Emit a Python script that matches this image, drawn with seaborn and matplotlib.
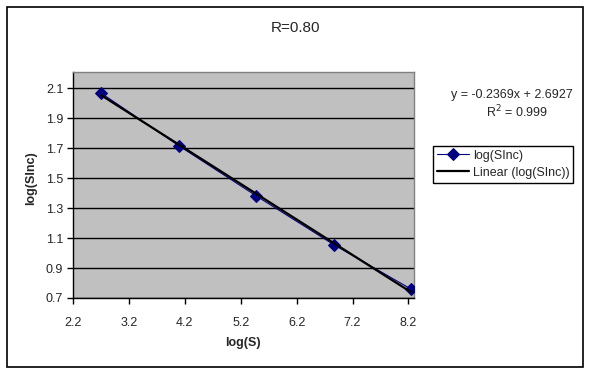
import numpy as np
import pandas as pd
import matplotlib
matplotlib.use("Agg")
import matplotlib.pyplot as plt
import seaborn as sns
from matplotlib.patches import Rectangle

log_s = [2.708, 4.094, 5.481, 6.867, 8.253]
log_sinc = [2.065, 1.715, 1.380, 1.055, 0.758]
slope = -0.2369
intercept = 2.6927
r_squared = 0.999
x_ticks = [2.2, 3.2, 4.2, 5.2, 6.2, 7.2, 8.2]
y_ticks = [0.7, 0.9, 1.1, 1.3, 1.5, 1.7, 1.9, 2.1]

sns.set_style("white")
plt.rcParams['font.family'] = ['Liberation Sans', 'DejaVu Sans']

fig = plt.figure(figsize=(5.91, 3.75), dpi=100)
ax = fig.add_axes([73/591, 1-298/375, (414-73)/591, (298-72)/375])

df = pd.DataFrame({"log(S)": log_s, "log(SInc)": log_sinc})
trend_x = np.array([log_s[0], log_s[-1]])
trend = pd.DataFrame({"x": trend_x, "y": slope * trend_x + intercept})

ax.set_facecolor("#C0C0C0")
for yt in y_ticks:
    ax.axhline(yt, color="black", lw=1, zorder=1)

sns.lineplot(data=df, x="log(S)", y="log(SInc)", ax=ax, color="#000080",
             marker="D", markersize=6, markeredgecolor="#000080", lw=0.8,
             label="log(SInc)", zorder=3)
sns.lineplot(data=trend, x="x", y="y", ax=ax, color="black", lw=1.6,
             label="Linear (log(SInc))", zorder=4)

ax.set_xlim(2.2, 8.3)
ax.set_ylim(0.7, 2.207)
ax.set_xticks(x_ticks)
ax.set_yticks(y_ticks)
ax.set_xticklabels([f"{v:.1f}" for v in x_ticks], fontsize=9)
ax.set_yticklabels([f"{v:.1f}" for v in y_ticks], fontsize=9)
ax.tick_params(axis="both", which="major", bottom=True, left=True,
               direction="out", length=4, width=1, color="black", pad=3)
ax.tick_params(axis="x", pad=9.5)

for side in ["left", "bottom"]:
    ax.spines[side].set_color("black")
    ax.spines[side].set_linewidth(1)
for side in ["top", "right"]:
    ax.spines[side].set_color("#808080")
    ax.spines[side].set_linewidth(1)

ax.set_xlabel("log(S)", fontsize=9, fontweight="bold", va="center")
ax.set_ylabel("log(SInc)", fontsize=9, fontweight="bold", va="center")
ax.xaxis.set_label_coords((243-73)/341, (298-343)/226)
ax.yaxis.set_label_coords((31-73)/341, (298-178)/226)

fig.text(296/591, 1-28/375, "R=0.80", ha="center", va="center", fontsize=11)
fig.text(512/591, 1-95/375, f"y = {slope:.4f}x + {intercept:.4f}",
         ha="center", va="center", fontsize=9)
fig.text(517/591, 1-112/375, f"R$^2$ = {r_squared:.3f}",
         ha="center", va="center", fontsize=9)

leg = ax.legend(loc="upper left", bbox_to_anchor=(433/591, 1-146/375),
                bbox_transform=fig.transFigure, fontsize=9, frameon=True,
                fancybox=False, framealpha=1, edgecolor="black",
                borderpad=0.3, handlelength=2.6, handletextpad=0.3,
                labelspacing=0.4, borderaxespad=0)
leg.get_frame().set_linewidth(1)

fig.patches.append(Rectangle((7/591, 1-367/375), (583-7)/591, (367-7)/375,
                             transform=fig.transFigure, fill=False,
                             edgecolor="black", lw=1.2))

fig.savefig("out.png", dpi=100, facecolor="white")
